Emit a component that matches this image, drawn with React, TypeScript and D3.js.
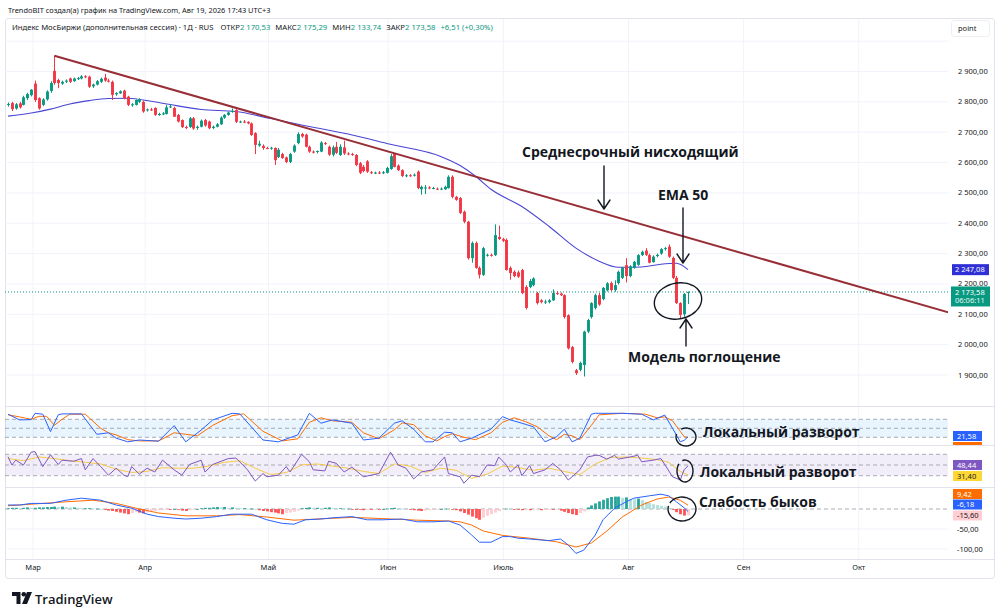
import React, { useRef, useEffect } from "react";
import * as d3 from "d3";

// daily candles, [open, high, low, close]
const candles: [number, number, number, number][] = [
  [2790, 2798, 2784, 2793], [2796, 2800, 2770, 2776], [2778, 2796, 2774, 2792], [2795, 2800, 2778, 2782],
  [2790, 2820, 2788, 2815], [2812, 2830, 2806, 2826], [2822, 2842, 2818, 2840], [2860, 2870, 2800, 2806],
  [2812, 2815, 2774, 2778], [2790, 2812, 2786, 2808], [2808, 2838, 2804, 2834], [2836, 2868, 2830, 2862],
  [2902, 2952, 2856, 2862], [2872, 2876, 2845, 2862], [2860, 2870, 2856, 2866], [2866, 2874, 2862, 2870],
  [2877, 2880, 2862, 2866], [2868, 2880, 2866, 2877], [2876, 2882, 2872, 2878], [2877, 2888, 2874, 2884],
  [2884, 2888, 2878, 2882], [2883, 2886, 2846, 2850], [2851, 2860, 2846, 2857], [2857, 2872, 2854, 2868],
  [2866, 2880, 2862, 2876], [2880, 2892, 2866, 2870], [2870, 2876, 2864, 2868], [2866, 2870, 2806, 2823],
  [2825, 2832, 2820, 2829], [2828, 2838, 2826, 2835], [2837, 2840, 2808, 2812], [2817, 2820, 2786, 2790],
  [2790, 2796, 2784, 2792], [2790, 2808, 2788, 2806], [2800, 2812, 2796, 2808], [2800, 2804, 2764, 2768],
  [2772, 2778, 2768, 2775], [2775, 2780, 2770, 2773], [2780, 2782, 2754, 2757], [2760, 2764, 2754, 2760],
  [2760, 2766, 2756, 2762], [2760, 2790, 2758, 2782], [2784, 2792, 2780, 2785], [2780, 2784, 2750, 2751],
  [2757, 2760, 2732, 2735], [2740, 2742, 2714, 2717], [2717, 2722, 2710, 2714], [2717, 2750, 2714, 2746],
  [2746, 2750, 2708, 2712], [2714, 2722, 2708, 2718], [2718, 2742, 2716, 2738], [2740, 2744, 2718, 2722],
  [2735, 2738, 2710, 2713], [2714, 2722, 2710, 2718], [2718, 2730, 2716, 2726], [2726, 2752, 2724, 2748],
  [2748, 2760, 2744, 2757], [2757, 2768, 2754, 2765], [2768, 2778, 2764, 2770], [2773, 2776, 2730, 2734],
  [2734, 2738, 2730, 2735], [2735, 2740, 2730, 2733], [2734, 2736, 2726, 2729], [2729, 2732, 2688, 2691],
  [2697, 2700, 2628, 2658], [2656, 2672, 2652, 2662], [2655, 2660, 2642, 2648], [2648, 2652, 2644, 2646],
  [2647, 2652, 2642, 2649], [2648, 2650, 2592, 2608], [2618, 2648, 2615, 2642], [2628, 2632, 2612, 2615],
  [2617, 2620, 2598, 2602], [2602, 2632, 2598, 2628], [2636, 2660, 2632, 2656], [2664, 2700, 2660, 2694],
  [2694, 2698, 2682, 2686], [2692, 2695, 2650, 2652], [2652, 2656, 2632, 2636], [2636, 2640, 2630, 2634],
  [2636, 2640, 2630, 2638], [2636, 2670, 2634, 2666], [2664, 2668, 2658, 2662], [2652, 2656, 2622, 2626],
  [2626, 2656, 2620, 2650], [2652, 2668, 2628, 2632], [2625, 2660, 2622, 2652], [2650, 2672, 2625, 2630],
  [2630, 2634, 2624, 2628], [2628, 2632, 2622, 2626], [2625, 2628, 2588, 2592], [2598, 2602, 2562, 2566],
  [2586, 2592, 2568, 2572], [2604, 2608, 2566, 2570], [2568, 2572, 2562, 2566], [2566, 2570, 2562, 2567],
  [2567, 2572, 2562, 2565], [2566, 2572, 2562, 2568], [2566, 2586, 2564, 2582], [2579, 2628, 2576, 2621],
  [2628, 2632, 2584, 2586], [2590, 2594, 2572, 2575], [2575, 2578, 2552, 2556], [2556, 2562, 2552, 2558],
  [2558, 2562, 2553, 2557], [2558, 2564, 2554, 2560], [2570, 2574, 2512, 2516], [2512, 2524, 2494, 2520],
  [2516, 2526, 2496, 2518], [2518, 2522, 2512, 2515], [2515, 2520, 2512, 2516], [2514, 2518, 2510, 2513],
  [2513, 2518, 2509, 2514], [2512, 2524, 2510, 2520], [2516, 2558, 2514, 2553], [2553, 2558, 2482, 2487],
  [2487, 2490, 2474, 2477], [2483, 2486, 2430, 2434], [2438, 2442, 2400, 2405], [2405, 2408, 2280, 2285],
  [2285, 2340, 2270, 2335], [2335, 2340, 2250, 2253], [2253, 2258, 2218, 2230], [2230, 2322, 2226, 2318],
  [2295, 2300, 2290, 2296], [2296, 2300, 2290, 2294], [2295, 2396, 2292, 2361], [2355, 2392, 2345, 2348],
  [2348, 2352, 2338, 2342], [2345, 2350, 2244, 2246], [2253, 2258, 2214, 2236], [2240, 2245, 2222, 2226],
  [2238, 2244, 2220, 2224], [2246, 2250, 2166, 2170], [2190, 2196, 2116, 2121], [2190, 2216, 2186, 2210],
  [2196, 2222, 2192, 2218], [2170, 2174, 2132, 2137], [2146, 2150, 2136, 2140], [2140, 2148, 2134, 2142],
  [2140, 2150, 2136, 2146], [2146, 2182, 2144, 2170], [2170, 2176, 2164, 2168], [2168, 2172, 2160, 2163],
  [2163, 2166, 2086, 2091], [2097, 2100, 1984, 1988], [1992, 1996, 1938, 1943], [1916, 1920, 1900, 1906],
  [1917, 1944, 1912, 1940], [1933, 2046, 1895, 2043], [2043, 2085, 2038, 2081], [2091, 2140, 2086, 2137],
  [2121, 2168, 2116, 2163], [2163, 2170, 2128, 2132], [2150, 2190, 2146, 2187], [2179, 2206, 2175, 2202],
  [2203, 2208, 2176, 2180], [2180, 2212, 2174, 2196], [2203, 2244, 2198, 2240], [2220, 2256, 2216, 2253],
  [2262, 2285, 2205, 2226], [2226, 2262, 2222, 2258], [2253, 2276, 2250, 2273], [2263, 2298, 2260, 2295],
  [2295, 2310, 2292, 2306], [2310, 2318, 2292, 2296], [2295, 2300, 2268, 2270], [2272, 2294, 2270, 2290],
  [2292, 2300, 2288, 2296], [2300, 2318, 2296, 2315], [2315, 2322, 2310, 2318], [2323, 2330, 2286, 2290],
  [2286, 2290, 2216, 2220], [2220, 2226, 2134, 2137], [2137, 2140, 2087, 2098], [2100, 2170, 2092, 2167.07],
  [2170.53, 2175.29, 2133.74, 2173.58],
];

// [bar index, value]
const ema50: [number, number][] = [
  [0, 2753], [6, 2763], [11, 2776], [16, 2793], [21, 2804], [26, 2811], [31, 2812], [37, 2802],
  [42, 2791], [50, 2775], [59, 2768], [68, 2745], [76, 2724], [88, 2694], [99, 2660], [112, 2620],
  [117, 2590], [121, 2555], [125, 2512], [133, 2455], [140, 2390], [147, 2318], [153, 2275],
  [158, 2255], [164, 2256], [169, 2265], [173, 2268], [176, 2247.08],
];

const trendLine: [number, number][] = [[12, 2952], [244, 2104]];

const stochK: [number, number][] = [
  [0, 97], [3, 78], [6, 79], [7, 100], [9, 97], [11, 39], [13, 95], [14, 98], [19, 98], [23, 30],
  [26, 35], [28, 17], [31, 5], [34, 11], [39, 7], [43, 59], [46, 5], [50, 44], [53, 78], [58, 100],
  [60, 98], [66, 11], [70, 5], [75, 28], [78, 100], [81, 67], [84, 78], [89, 67], [92, 11], [96, 17],
  [100, 67], [102, 75], [105, 47], [108, 5], [110, 5], [113, 37], [115, 35], [117, 5], [120, 17],
  [125, 47], [128, 89], [130, 78], [133, 67], [136, 55], [139, 5], [142, 22], [144, 47], [146, 5],
  [148, 17], [151, 97], [152, 100], [159, 100], [164, 97], [167, 78], [170, 94], [172, 50], [174, 5],
  [175, 10], [176, 21.58],
];

const stochD: [number, number][] = [
  [0, 95], [3, 88], [6, 80], [8, 90], [10, 90], [12, 60], [14, 80], [16, 97], [20, 97], [24, 50],
  [26, 35], [28, 28], [31, 12], [34, 8], [39, 8], [43, 35], [46, 30], [49, 25], [53, 60], [58, 92],
  [61, 98], [66, 40], [71, 8], [75, 15], [78, 70], [81, 85], [84, 75], [89, 70], [92, 35], [96, 15],
  [100, 45], [102, 68], [105, 62], [108, 25], [111, 8], [113, 22], [115, 32], [118, 20], [121, 12],
  [125, 35], [128, 70], [131, 85], [134, 72], [137, 55], [140, 25], [142, 12], [144, 30], [146, 25],
  [148, 12], [151, 60], [153, 95], [159, 100], [165, 97], [168, 85], [170, 88], [172, 75], [174, 40],
  [175, 22], [176, 19.63],
];

const rsi: [number, number][] = [
  [0, 65.5], [1, 50], [2, 59], [4, 50], [6, 74], [7, 75], [9, 47], [11, 69], [13, 51], [14, 59],
  [17, 57], [19, 62], [20, 41], [22, 62], [24, 47], [26, 31], [28, 44], [30, 31], [31, 28], [32, 47],
  [34, 33], [36, 44], [38, 37], [40, 59], [43, 41], [45, 31], [47, 51], [50, 59], [51, 37], [53, 51],
  [57, 62], [59, 63], [62, 41], [64, 20], [66, 34], [67, 28], [70, 31], [72, 47], [73, 37], [76, 70],
  [78, 56], [79, 41], [82, 39], [83, 57], [85, 53], [87, 37], [89, 46], [92, 28], [96, 34], [99, 74],
  [101, 50], [103, 44], [105, 24], [107, 37], [110, 41], [113, 65], [114, 34], [117, 28], [118, 16],
  [120, 31], [122, 28], [124, 50], [126, 49], [127, 65], [129, 50], [130, 37], [132, 50], [133, 30],
  [135, 49], [136, 34], [139, 41], [141, 53], [143, 41], [145, 22], [146, 28], [148, 41], [150, 65],
  [152, 68], [153, 68], [155, 61], [157, 68], [158, 61], [161, 65], [163, 68], [164, 56], [167, 59],
  [169, 62], [172, 28], [174, 22], [175, 41], [176, 48.44],
];

const rsiMa: [number, number][] = [
  [0, 62], [4, 58], [8, 65], [12, 62], [16, 58], [20, 55], [24, 52], [28, 42], [32, 36], [36, 38],
  [40, 45], [44, 44], [48, 44], [52, 48], [56, 55], [60, 58], [64, 44], [68, 32], [72, 36], [76, 50],
  [80, 52], [84, 48], [88, 44], [92, 38], [96, 34], [100, 52], [104, 48], [108, 36], [112, 44],
  [116, 40], [120, 25], [124, 33], [128, 48], [132, 45], [136, 40], [140, 44], [144, 38], [148, 32],
  [152, 52], [156, 64], [160, 65], [164, 63], [168, 60], [171, 55], [174, 38], [176, 31.4],
];

const macd: [number, number][] = [
  [0, 10], [3, 10], [6, 14], [11, 14], [15, 22], [19, 27], [24, 22], [28, 10], [32, 2], [36, -13],
  [39, -19], [43, -23], [46, -25], [50, -23], [54, -19], [58, -13], [63, -13], [67, -27], [71, -36],
  [74, -38], [77, -27], [81, -25], [84, -22], [89, -19], [93, -27], [97, -27], [102, -25], [106, -32],
  [110, -32], [114, -30], [117, -40], [120, -65], [122, -83], [125, -83], [128, -69], [130, -69],
  [132, -73], [135, -75], [140, -79], [143, -75], [145, -90], [147, -111], [149, -103], [152, -65],
  [154, -27], [157, 2], [160, 18], [162, 27], [166, 33], [169, 37], [171, 33], [173, 18], [175, 3],
  [176, -6.18],
];

const macdSignal: [number, number][] = [
  [0, 8], [6, 12], [15, 18], [22, 22], [28, 14], [34, 0], [39, -10], [46, -17], [54, -17], [60, -14],
  [67, -20], [74, -28], [80, -25], [89, -21], [97, -24], [106, -28], [114, -30], [117, -32], [120, -40],
  [123, -55], [128, -66], [135, -73], [142, -82], [147, -95], [151, -85], [155, -55], [159, -20],
  [164, 10], [168, 25], [171, 30], [174, 22], [176, 9.42],
];

const macdHist: number[] = [
  2, 3, 3, 2, 3, 4, 3, 3, 4,
  4, 5, 5, 6, 5, 6, 5, 4, 4,
  3, 2, 2, 2, 1, 1, 0,
  -2, -4, -5, -7, -9, -11, -13, -10,
  -8, -9, -11, -8, -6, -5,
  -3, -2, -1, -1, 0, -2,
  -4, -5, -3, -2, 0,
  2, 3, 3, 4, 5, 4, 5, 3, 4, 3, 2,
  2, 1, 1, 0,
  -3, -5, -6, -8, -9, -11, -13, -10, -9, -7, -4,
  2, 3, 4, 3, 3, 2, 3, 4, 3, 2, 2, 1, 1,
  -1, -2, -2, -3, -2, -2, -1, -1, 0, 1,
  2, 3, 2, 1, 0,
  -2, -3, -4, -5, -4, -3, -2,
  -1, 0, 1, 0, -1, -3,
  -6, -10, -14, -19, -23, -27,
  -22, -17, -13, -9, -5,
  -2, 1, 0,
  -1, -2, -3, -2, -3, -2, -1, -3, -2, -1, -2, -1,
  -4, -7, -10, -13, -15, -10, -6,
  4, 9, 14, 19, 23, 27, 30, 31, 31,
  28, 29, 25, 24, 26, 22,
  18, 15, 12, 10, 8, 6, 3, -2,
  -8, -13, -16.5, -15.6,
];

const priceTicks = [1900, 2000, 2100, 2200, 2300, 2400, 2500, 2600, 2700, 2800, 2900];
const macdTicks = [-50, -100];
const monthTicks = [
  { label: "Мар", i: 6.5 }, { label: "Апр", i: 35.5 }, { label: "Май", i: 67.4 },
  { label: "Июн", i: 98.4 }, { label: "Июль", i: 128.2 }, { label: "Авг", i: 160.6 },
  { label: "Сен", i: 190.4 }, { label: "Окт", i: 220.2 },
];

const ohlcLegend = [
  { k: "ОТКР", v: "2 170,53" }, { k: "МАКС", v: "2 175,29" },
  { k: "МИН", v: "2 133,74" }, { k: "ЗАКР", v: "2 173,58" },
];

const fmt = (v: number) =>
  d3.format(",.2f")(v).replace(/,/g, " ").replace(".", ",").replace("−", "-");

export default function App() {
  const svgRef = useRef<SVGSVGElement>(null);

  useEffect(() => {
    if (!svgRef.current) return;
    const svg = d3.select(svgRef.current);
    svg.selectAll("*").remove();

    const W = 1000, H = 616;
    const plotL = 5, plotR = 948;
    const ui = "'Noto Sans', 'Open Sans', sans-serif";
    const bold = "'Open Sans', 'Noto Sans', sans-serif";
    const ink = "#131722";
    const up = "#089981", down = "#f23645";
    const emaColor = "#4a45d4";
    const grid = "#f0f3fa";
    const sep = "#e0e3eb";

    const panes: Record<string, [number, number]> = {
      price: [20, 406], stoch: [407, 445], rsi: [446, 487], macd: [488, 559],
    };

    svg.append("rect").attr("width", W).attr("height", H).attr("fill", "#fff");

    const defs = svg.append("defs");
    Object.entries(panes).forEach(([k, [t, b]]) => {
      defs.append("clipPath").attr("id", `clip-${k}`)
        .append("rect").attr("x", plotL).attr("y", t).attr("width", plotR - plotL).attr("height", b - t);
      defs.append("clipPath").attr("id", `clipax-${k}`)
        .append("rect").attr("x", plotR).attr("y", t).attr("width", W - plotR - 5).attr("height", b - t);
    });

    const x = d3.scaleLinear().domain([0, candles.length - 1]).range([8, 688]);
    const yP = d3.scaleLinear().domain([1900, 2900]).range([375, 71.5]);
    const yS = d3.scaleLinear().domain([0, 100]).range([443.3, 413.3]);
    const yR = d3.scaleLinear().domain([30, 70]).range([475.7, 454.3]);
    const yM = d3.scaleLinear().domain([-100, 0]).range([549, 509]);

    // header
    svg.append("text").attr("x", 8).attr("y", 12.5)
      .style("font-family", ui).style("font-size", "7.4px").style("fill", ink)
      .text("TrendoBIT создал(а) график на TradingView.com, Авг 19, 2026 17:43 UTC+3");

    // frame
    svg.append("rect").attr("x", 5.5).attr("y", 18.5).attr("width", 989).attr("height", 560)
      .attr("rx", 3).attr("fill", "none").attr("stroke", sep);

    // vertical grid
    monthTicks.forEach(m => {
      svg.append("line").attr("x1", x(m.i)).attr("x2", x(m.i)).attr("y1", 19).attr("y2", 559)
        .attr("stroke", grid).attr("stroke-width", 1);
    });

    // pane separators
    [406.5, 445.5, 487.5, 559.5].forEach(y => {
      svg.append("line").attr("x1", 6).attr("x2", 994).attr("y1", y).attr("y2", y)
        .attr("stroke", sep).attr("stroke-width", 1);
    });

    // ---------- price pane ----------
    const gp = svg.append("g").attr("clip-path", "url(#clip-price)");
    priceTicks.concat([3000]).forEach(p => {
      gp.append("line").attr("x1", plotL).attr("x2", plotR).attr("y1", yP(p)).attr("y2", yP(p))
        .attr("stroke", grid);
    });

    const last = candles[candles.length - 1];
    gp.append("line").attr("x1", plotL).attr("x2", plotR)
      .attr("y1", yP(last[3])).attr("y2", yP(last[3]))
      .attr("stroke", up).attr("stroke-dasharray", "1,2").attr("stroke-width", 1);

    const ema = d3.line<[number, number]>().x(d => x(d[0])).y(d => yP(d[1])).curve(d3.curveMonotoneX);
    gp.append("path").datum(ema50).attr("d", ema).attr("fill", "none")
      .attr("stroke", emaColor).attr("stroke-width", 1.1);

    const bw = 2.9;
    candles.forEach(([o, h, l, c], i) => {
      const col = c >= o ? up : down;
      const cx = Math.round(x(i)) + 0.5;
      gp.append("line").attr("x1", cx).attr("x2", cx).attr("y1", yP(h)).attr("y2", yP(l))
        .attr("stroke", col).attr("stroke-width", 1);
      const top = yP(Math.max(o, c));
      gp.append("rect").attr("x", cx - bw / 2).attr("y", top)
        .attr("width", bw).attr("height", Math.max(1, Math.abs(yP(o) - yP(c))))
        .attr("fill", col);
    });

    const tl = d3.line<[number, number]>().x(d => x(d[0])).y(d => yP(d[1]));
    gp.append("path").datum(trendLine).attr("d", tl).attr("fill", "none")
      .attr("stroke", "#982f37").attr("stroke-width", 2);

    // legend
    const leg = svg.append("text").attr("x", 12).attr("y", 30)
      .style("font-family", ui).style("font-size", "7.7px").style("fill", ink);
    leg.append("tspan").text("Индекс МосБиржи (дополнительная сессия) · 1Д · RUS ");
    ohlcLegend.forEach(d => {
      leg.append("tspan").attr("dx", 5).text(d.k);
      leg.append("tspan").style("fill", up).text(d.v);
    });
    leg.append("tspan").attr("dx", 5).style("fill", up).text("+6,51 (+0,30%)");

    // "point" box
    svg.append("rect").attr("x", 951.5).attr("y", 20.5).attr("width", 38).attr("height", 16)
      .attr("rx", 3).attr("fill", "#fff").attr("stroke", "#eceef2");
    svg.append("text").attr("x", 958).attr("y", 31).style("font-family", ui)
      .style("font-size", "7.5px").style("fill", ink).text("point");

    // price axis
    priceTicks.forEach(p => {
      svg.append("text").attr("x", 958).attr("y", yP(p) + 2.5)
        .style("font-family", ui).style("font-size", "7.5px").style("fill", ink).text(fmt(p));
    });
    const emaLast = ema50[ema50.length - 1][1];
    svg.append("rect").attr("x", 952).attr("y", yP(emaLast) - 5.5).attr("width", 37).attr("height", 11)
      .attr("fill", "#2f2fd6");
    svg.append("text").attr("x", 955).attr("y", yP(emaLast) + 2.7)
      .style("font-family", ui).style("font-size", "7.5px").style("fill", "#fff").text(fmt(emaLast));
    svg.append("rect").attr("x", 951).attr("y", yP(last[3]) - 5.5).attr("width", 39).attr("height", 20)
      .attr("fill", up);
    svg.append("text").attr("x", 955).attr("y", yP(last[3]) + 2.7)
      .style("font-family", ui).style("font-size", "7.5px").style("fill", "#fff").text(fmt(last[3]));
    svg.append("text").attr("x", 955).attr("y", yP(last[3]) + 11.5)
      .style("font-family", ui).style("font-size", "7.5px").style("fill", "#e6f6f3").text("06:06:11");

    // helpers for indicator panes
    const band = (g: any, y: d3.ScaleLinear<number, number>, hi: number, lo: number, fill: string, lines: number[]) => {
      g.append("rect").attr("x", plotL).attr("width", plotR - plotL)
        .attr("y", y(hi)).attr("height", y(lo) - y(hi)).attr("fill", fill);
      lines.forEach(v => {
        g.append("line").attr("x1", plotL).attr("x2", plotR).attr("y1", y(v)).attr("y2", y(v))
          .attr("stroke", "#9598a1").attr("stroke-dasharray", "4,3").attr("stroke-width", 0.8);
      });
    };
    const series = (g: any, y: d3.ScaleLinear<number, number>, data: [number, number][], color: string) => {
      const ln = d3.line<[number, number]>().x(d => x(d[0])).y(d => y(d[1]));
      g.append("path").datum(data).attr("d", ln).attr("fill", "none")
        .attr("stroke", color).attr("stroke-width", 1);
    };
    const tag = (pane: string, yc: number, val: number, bg: string, fg: string) => {
      const g = svg.append("g").attr("clip-path", `url(#clipax-${pane})`);
      g.append("rect").attr("x", 953).attr("y", yc - 5).attr("width", 29).attr("height", 10).attr("fill", bg);
      g.append("text").attr("x", 957).attr("y", yc + 2.6).style("font-family", ui)
        .style("font-size", "7.5px").style("fill", fg).text(fmt(val));
    };

    // ---------- Stoch RSI ----------
    const gs = svg.append("g").attr("clip-path", "url(#clip-stoch)");
    band(gs, yS, 80, 20, "rgba(33,150,243,0.10)", [80, 50, 20]);
    series(gs, yS, stochD, "#ff6d00");
    series(gs, yS, stochK, "#2962ff");
    tag("stoch", 436, stochK[stochK.length - 1][1], "#2962ff", "#fff");
    tag("stoch", 447, stochD[stochD.length - 1][1], "#ff6d00", "#fff");

    // ---------- RSI ----------
    const gr = svg.append("g").attr("clip-path", "url(#clip-rsi)");
    band(gr, yR, 70, 30, "rgba(126,87,194,0.10)", [70, 50, 30]);
    series(gr, yR, rsiMa, "#f7c948");
    series(gr, yR, rsi, "#7e57c2");
    tag("rsi", 465, rsi[rsi.length - 1][1], "#7e57c2", "#fff");
    tag("rsi", 476, rsiMa[rsiMa.length - 1][1], "#fdd835", ink);

    // ---------- MACD ----------
    const gm = svg.append("g").attr("clip-path", "url(#clip-macd)");
    macdTicks.forEach(v => {
      gm.append("line").attr("x1", plotL).attr("x2", plotR).attr("y1", yM(v)).attr("y2", yM(v))
        .attr("stroke", grid);
    });
    gm.append("line").attr("x1", plotL).attr("x2", plotR).attr("y1", yM(0)).attr("y2", yM(0))
      .attr("stroke", "#9598a1").attr("stroke-dasharray", "4,3").attr("stroke-width", 0.8);
    macdHist.forEach((v, i) => {
      const prev = i > 0 ? macdHist[i - 1] : v;
      const col = v >= 0 ? (v >= prev ? "#26a69a" : "#b2dfdb") : (v <= prev ? "#ff5252" : "#ffcdd2");
      const cx = Math.round(x(i)) + 0.5;
      gm.append("rect").attr("x", cx - 1.4).attr("width", 2.8)
        .attr("y", Math.min(yM(0), yM(v))).attr("height", Math.max(0.8, Math.abs(yM(v) - yM(0))))
        .attr("fill", col);
    });
    series(gm, yM, macdSignal, "#ff6d00");
    series(gm, yM, macd, "#2962ff");
    tag("macd", 494, macdSignal[macdSignal.length - 1][1], "#ff6d00", "#fff");
    tag("macd", 504.5, macd[macd.length - 1][1], "#2962ff", "#fff");
    tag("macd", 515.5, macdHist[macdHist.length - 1], "#ffcdd2", ink);
    macdTicks.forEach(v => {
      svg.append("text").attr("x", 957).attr("y", yM(v) + 2.6).style("font-family", ui)
        .style("font-size", "7.5px").style("fill", ink).text(fmt(v));
    });

    // ---------- time axis ----------
    monthTicks.forEach(m => {
      svg.append("text").attr("x", x(m.i)).attr("y", 570).attr("text-anchor", "middle")
        .style("font-family", ui).style("font-size", "7.5px").style("fill", ink).text(m.label);
    });

    // ---------- annotations ----------
    const note = (tx: number, ty: number, s: string) =>
      svg.append("text").attr("x", tx).attr("y", ty).style("font-family", bold)
        .style("font-weight", 700).style("font-size", "14px").style("fill", ink).text(s);
    note(522, 157, "Среднесрочный нисходящий");
    note(658, 200, "EMA 50");
    note(628, 362, "Модель поглощение");
    note(703, 437, "Локальный разворот");
    note(700, 477, "Локальный разворот");
    note(699, 507, "Слабость быков");

    const pen = (d: string) => svg.append("path").attr("d", d).attr("fill", "none")
      .attr("stroke", ink).attr("stroke-width", 1.4).attr("stroke-linecap", "round")
      .attr("stroke-linejoin", "round");
    pen("M604,166 L604,209 M598,200 L604,209 L610,200");
    pen("M683,208 L683,263 M677,254 L683,263 L689,254");
    pen("M686,346 L686,319 M680,328 L686,319 L692,328");

    const loop = (cx: number, cy: number, rx: number, ry: number, a0: number, sweep: number, tilt: number) => {
      const pts = d3.range(0, 41).map(k => {
        const a = (a0 + (sweep * k) / 40) * Math.PI / 180;
        const px = rx * Math.cos(a), py = ry * Math.sin(a);
        const t = tilt * Math.PI / 180;
        return [cx + px * Math.cos(t) - py * Math.sin(t), cy + px * Math.sin(t) + py * Math.cos(t)] as [number, number];
      });
      svg.append("path").datum(pts).attr("d", d3.line().curve(d3.curveBasis)).attr("fill", "none")
        .attr("stroke", ink).attr("stroke-width", 1.4);
    };
    loop(678, 301, 24, 18, -60, 375, -12);
    loop(686, 437, 10, 9, -120, 320, 0);
    loop(685, 471, 8, 11, -110, 330, 0);
    loop(682, 509, 14, 12, -150, 345, 0);

    // ---------- logo ----------
    svg.append("path").attr("d", "M12,592 H20.5 V604 H16.5 V596 H12 Z").attr("fill", ink);
    svg.append("circle").attr("cx", 23.8).attr("cy", 594.3).attr("r", 2.3).attr("fill", ink);
    svg.append("path").attr("d", "M27,592 H32 L27,604 H22 Z").attr("fill", ink);
    svg.append("text").attr("x", 35).attr("y", 604).style("font-family", bold)
      .style("font-weight", 600).style("font-size", "13px").style("fill", ink).text("TradingView");
  }, []);

  return (
    <div style={{ position: "absolute", left: 0, top: 0, width: 1000, height: 616 }}>
      <svg ref={svgRef} width={1000} height={616} style={{ display: "block" }} />
    </div>
  );
}
